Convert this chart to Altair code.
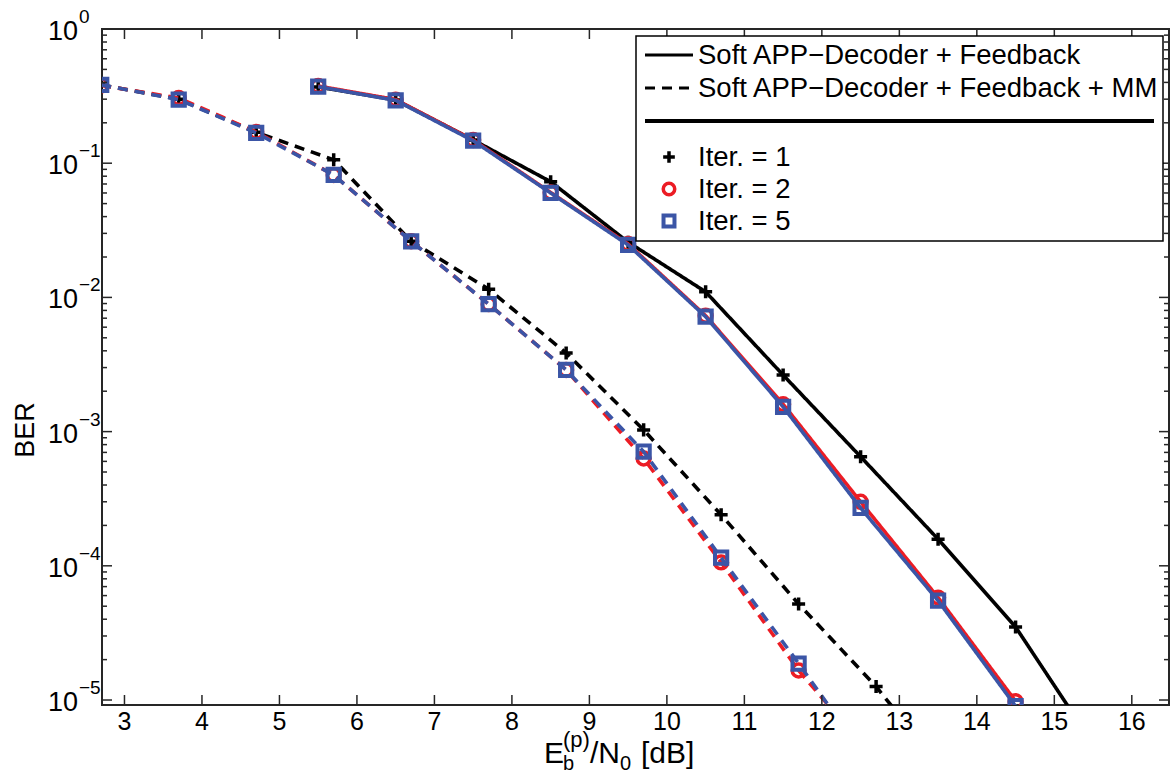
import altair as alt
import pandas as pd

# ---------------- data ----------------
x_mm = [2.7, 3.7, 4.7, 5.7, 6.7, 7.7, 8.7, 9.7, 10.7, 11.7, 12.7, 13.7]
ber_mm_it1 = [0.383, 0.300, 0.170, 0.106, 0.0262, 0.0115, 0.00385, 0.00103, 2.4e-4, 5.2e-5, 1.26e-5, 2.4e-6]
ber_mm_it2 = [0.380, 0.306, 0.171, 0.0817, 0.0262, 0.0089, 0.00288, 6.3e-4, 1.06e-4, 1.66e-5, 3.5e-6]
ber_mm_it5 = [0.383, 0.298, 0.168, 0.0817, 0.0262, 0.0089, 0.00288, 7.08e-4, 1.15e-4, 1.87e-5, 2.9e-6]

x_fb = [5.5, 6.5, 7.5, 8.5, 9.5, 10.5, 11.5, 12.5, 13.5, 14.5, 15.5]
ber_fb_it1 = [0.370, 0.296, 0.149, 0.0728, 0.0258, 0.0110, 0.00264, 6.5e-4, 1.58e-4, 3.5e-5, 4.7e-6]
ber_fb_it2 = [0.376, 0.298, 0.149, 0.0605, 0.0250, 0.00730, 0.00160, 3.0e-4, 5.8e-5, 9.8e-6]
ber_fb_it5 = [0.372, 0.294, 0.147, 0.0600, 0.0246, 0.00718, 0.00153, 2.7e-4, 5.5e-5, 9.0e-6]

x_tick_values = [3, 4, 5, 6, 7, 8, 9, 10, 11, 12, 13, 14, 15, 16]
y_major_values = [1, 1e-1, 1e-2, 1e-3, 1e-4, 1e-5]
y_major_exponents = ["0", "\u22121", "\u22122", "\u22123", "\u22124", "\u22125"]
y_minor_mantissas = [2, 3, 4, 5, 6, 7, 8, 9]
y_minor_decades = [1e-1, 1e-2, 1e-3, 1e-4, 1e-5]

legend_line_labels = ["Soft APP\u2212Decoder + Feedback",
                      "Soft APP\u2212Decoder + Feedback + MM"]
iter_labels = ["Iter. = 1", "Iter. = 2", "Iter. = 5"]

# ---------------- styling ----------------
W, H = 1067, 676
FONT = "Liberation Sans"
RED = "#ec1c24"
BLUE = "#3b55a6"
BLACK = "#000000"
PLUS = "M-1,0H1M0,-1V1"
iter_style = {
    1: dict(color=BLACK, shape=PLUS, size=170, sw=3.5),
    2: dict(color=RED, shape="circle", size=165, sw=3.5),
    5: dict(color=BLUE, shape="square", size=150, sw=4),
}

xs = alt.Scale(domain=[2.71, 16.48], nice=False, zero=False)
ys = alt.Scale(type="log", domain=[9.18e-6, 1], nice=False)

rows = []
for it, vals in [(1, ber_mm_it1), (2, ber_mm_it2), (5, ber_mm_it5)]:
    for xv, b in zip(x_mm, vals):
        rows.append(dict(method="mm", it=it, x=xv, ber=b))
for it, vals in [(1, ber_fb_it1), (2, ber_fb_it2), (5, ber_fb_it5)]:
    for xv, b in zip(x_fb, vals):
        rows.append(dict(method="fb", it=it, x=xv, ber=b))
df = pd.DataFrame(rows)

X = alt.X("x:Q", scale=xs, axis=None)
Y = alt.Y("ber:Q", scale=ys, axis=None)

layers = []
for method in ["mm", "fb"]:
    dash = [10, 7] if method == "mm" else [1, 0]
    for it in [1, 2, 5]:
        st = iter_style[it]
        sub = df[(df.method == method) & (df.it == it)]
        base = alt.Chart(sub)
        layers.append(base.mark_line(clip=True, color=st["color"], strokeWidth=3.6,
                                     strokeDash=dash, strokeCap="butt").encode(x=X, y=Y))
        layers.append(base.mark_point(clip=True, filled=False, color=st["color"],
                                      shape=st["shape"], size=st["size"], strokeWidth=st["sw"],
                                      opacity=1).encode(x=X, y=Y))

# ---------------- inward ticks ----------------
xt = pd.DataFrame({"t": x_tick_values})
XT = alt.X("t:Q", scale=xs, axis=None)
layers.append(alt.Chart(xt).mark_rule(color="#262626", strokeWidth=1.5).encode(
    x=XT, y=alt.value(H), y2=alt.value(H - 10)))
layers.append(alt.Chart(xt).mark_rule(color="#262626", strokeWidth=1.5).encode(
    x=XT, y=alt.value(0), y2=alt.value(10)))

ymaj = pd.DataFrame({"v": y_major_values, "e": y_major_exponents})
ymin = pd.DataFrame({"v": [m * d for d in y_minor_decades for m in y_minor_mantissas]})
YV = alt.Y("v:Q", scale=ys, axis=None)
for dfx, ln in [(ymaj, 10), (ymin, 5)]:
    layers.append(alt.Chart(dfx).mark_rule(clip=True, color="#262626", strokeWidth=1.5).encode(
        y=YV, x=alt.value(0), x2=alt.value(ln)))
    layers.append(alt.Chart(dfx).mark_rule(clip=True, color="#262626", strokeWidth=1.5).encode(
        y=YV, x=alt.value(W), x2=alt.value(W - ln)))

# ---------------- tick labels ----------------
xt["lab"] = xt["t"].astype(str)
layers.append(alt.Chart(xt).mark_text(font=FONT, fontSize=25, align="center", baseline="top",
                                      color=BLACK).encode(x=XT, y=alt.value(H + 5), text="lab:N"))
layers.append(alt.Chart(ymaj.assign(ten="10")).mark_text(font=FONT, fontSize=27, align="right",
                                                          baseline="middle", dy=3, color=BLACK).encode(
    y=YV, x=alt.value(-24), text="ten:N"))
layers.append(alt.Chart(ymaj).mark_text(font=FONT, fontSize=19, align="left", baseline="middle",
                                        dy=-12, color=BLACK).encode(
    y=YV, x=alt.value(-23), text="e:N"))

# ---------------- axis titles ----------------
one = alt.Chart(pd.DataFrame({"k": [0]}))
layers.append(one.mark_text(font=FONT, fontSize=27, angle=270, align="center", baseline="middle",
                            text="BER", color=BLACK).encode(x=alt.value(-76), y=alt.value(H / 2 + 63)))
title_parts = [
    ("E", 442, 734, 30),
    ("b", 461, 741, 20),
    ("(p)", 461, 718, 22),
    ("/N", 488, 734, 30),
    ("0", 518, 741, 20),
    ("[dB]", 539, 734, 30),
]
for txt, tx, ty, fs in title_parts:
    layers.append(one.mark_text(font=FONT, fontSize=fs, align="left", baseline="alphabetic",
                                text=txt, color=BLACK).encode(x=alt.value(tx), y=alt.value(ty)))

# ---------------- legend ----------------
layers.append(one.mark_rect(fill="white", stroke="black", strokeWidth=1.5).encode(
    x=alt.value(534), x2=alt.value(1061), y=alt.value(7), y2=alt.value(212)))
for i, (lab, dash) in enumerate(zip(legend_line_labels, [[1, 0], [10, 7]])):
    yy = 26 + 33 * i
    layers.append(one.mark_rule(color=BLACK, strokeWidth=3, strokeDash=dash, strokeCap="butt").encode(
        x=alt.value(543), x2=alt.value(591), y=alt.value(yy)))
    layers.append(one.mark_text(font=FONT, fontSize=27.5, align="left", baseline="middle",
                                text=lab, color=BLACK).encode(x=alt.value(596), y=alt.value(yy + 1)))
layers.append(one.mark_rule(color=BLACK, strokeWidth=4).encode(
    x=alt.value(543), x2=alt.value(1052), y=alt.value(92)))
for i, (lab, it) in enumerate(zip(iter_labels, [1, 2, 5])):
    st = iter_style[it]
    yy = 128 + 32 * i
    layers.append(one.mark_point(filled=False, color=st["color"], shape=st["shape"],
                                 size=st["size"] * 0.8, strokeWidth=st["sw"], opacity=1).encode(
        x=alt.value(567), y=alt.value(yy)))
    layers.append(one.mark_text(font=FONT, fontSize=27.5, align="left", baseline="middle",
                                text=lab, color=BLACK).encode(x=alt.value(596), y=alt.value(yy + 1)))

chart = alt.layer(*layers).properties(
    width=W, height=H,
    autosize=alt.AutoSizeParams(type="none"),
    padding={"left": 102, "top": 29, "right": 2, "bottom": 69},
    background="white",
).configure_view(stroke="#262626", strokeWidth=2)

chart.save("out.html", embed_options={"renderer": "svg", "actions": False})
